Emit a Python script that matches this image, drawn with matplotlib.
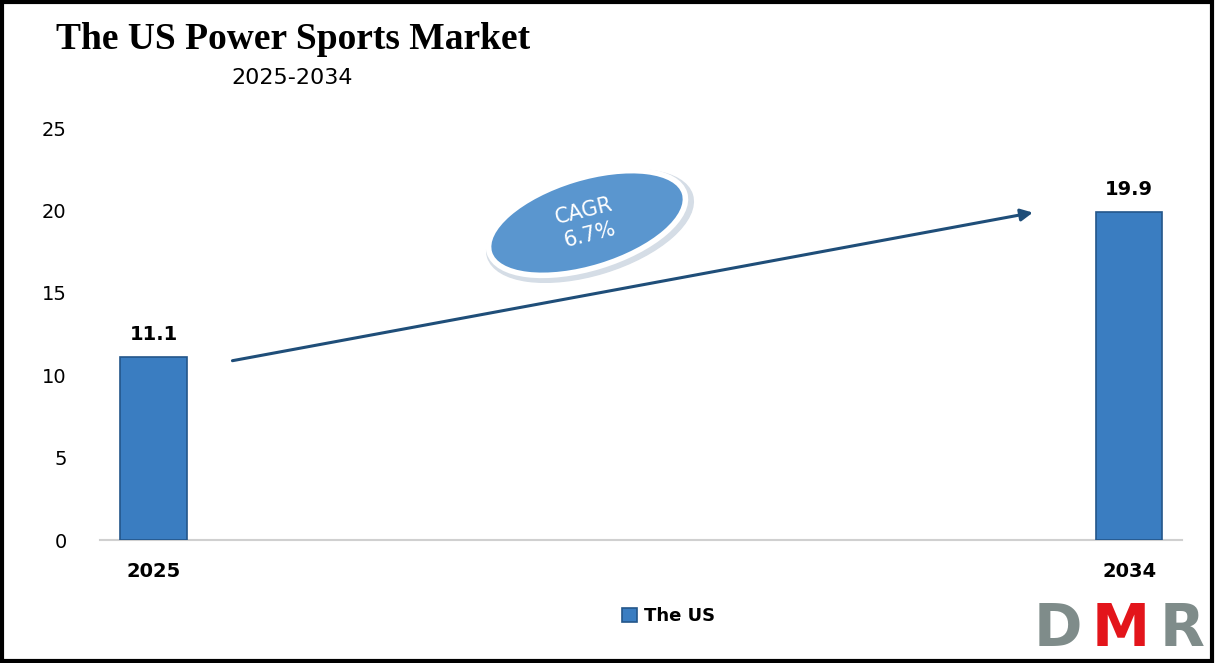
import matplotlib.pyplot as plt
from matplotlib.patches import Ellipse, Rectangle

years = ["2025", "2034"]
values = [11.1, 19.9]
series_name = "The US"
cagr_text = "CAGR\n6.7%"

fig = plt.figure(figsize=(12.16, 6.63), dpi=100)
ax = fig.add_axes([0.0822, 0.1855, 0.8898, 0.6214])

x = [0, 1]
bars = ax.bar(x, values, width=0.068, color="#3a7dc1", edgecolor="#24568a",
              linewidth=1.2, label=series_name, zorder=3)
for xi, v in zip(x, values):
    ax.text(xi, v + 0.8, f"{v}", ha="center", va="bottom", fontsize=14,
            fontweight="bold")

ax.set_xlim(-0.055, 1.054)
ax.set_ylim(0, 25)
ax.set_yticks([0, 5, 10, 15, 20, 25])
ax.set_xticks(x)
ax.set_xticklabels(years, fontsize=14, fontweight="bold")
ax.tick_params(axis="y", labelsize=14, length=0, pad=24)
ax.tick_params(axis="x", length=0, pad=16)
for s in ["top", "right", "left"]:
    ax.spines[s].set_visible(False)
ax.spines["bottom"].set_color("#d0d0d0")
ax.spines["bottom"].set_linewidth(1.5)

# growth arrow
ax.annotate("", xy=(0.904, 19.9), xytext=(0.078, 10.85),
            arrowprops=dict(arrowstyle="-|>", color="#1f4e79", lw=2.2,
                            mutation_scale=18), zorder=4)

# CAGR bubble, drawn on a pixel-scaled overlay so the shape is not distorted
ov = fig.add_axes([0, 0, 1, 1], facecolor="none")
ov.set_xlim(0, 1216)
ov.set_ylim(0, 663)
ov.axis("off")
ov.add_patch(Ellipse((590, 437), 214, 98, angle=17, color="#d5dde6", zorder=1))
ov.add_patch(Ellipse((587, 440), 204, 90, angle=17, facecolor="#5a96cf",
                     edgecolor="white", linewidth=4, zorder=2))
ov.text(587, 440, cagr_text, ha="center", va="center", color="white",
        fontsize=15, rotation=14, zorder=3, linespacing=1.3)

# titles
fig.text(0.046, 0.94, "The US Power Sports Market", family="Liberation Serif",
         fontweight="bold", fontsize=27, va="center", ha="left")
fig.text(0.24, 0.882, "2025-2034", fontsize=16, va="center", ha="center")

# legend
fig.legend(handles=[bars], labels=[series_name], loc="center",
           bbox_to_anchor=(0.55, 0.071), frameon=False,
           prop={"weight": "bold", "size": 13}, handlelength=0.8,
           handleheight=0.8, handletextpad=0.4)

# logo
for letter, xpos, col in [("D", 0.850, "#7f8c8a"), ("M", 0.898, "#e3151b"),
                          ("R", 0.954, "#7f8c8a")]:
    fig.text(xpos, 0.008, letter, color=col, fontsize=42, fontweight="bold",
             ha="left", va="bottom")

# outer frame
fig.patches.append(Rectangle((0.002, 0.003), 0.995, 0.994, fill=False,
                             edgecolor="black", linewidth=3,
                             transform=fig.transFigure, figure=fig))

fig.savefig("out.png", dpi=100)
